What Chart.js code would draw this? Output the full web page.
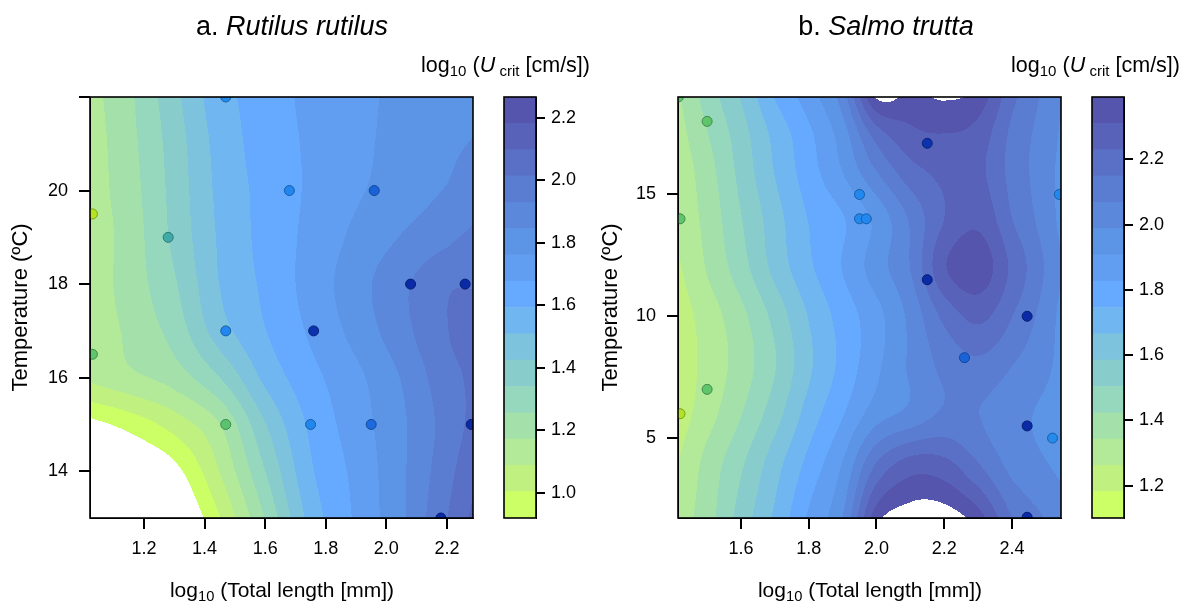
<!DOCTYPE html>
<html>
<head>
<meta charset="utf-8">
<script src="https://cdn.jsdelivr.net/npm/chart.js@4.4.1/dist/chart.umd.min.js"></script>
<style>
  body { margin: 0; background: #fff; font-family: "Liberation Sans", Arial, sans-serif; }
  #wrap { position: relative; width: 1185px; height: 603px; overflow: hidden; }
  canvas { position: absolute; top: 0; }
  .txt { position: absolute; white-space: nowrap; line-height: 1; color: #000; }
  .title { font-size: 27px; top: 13px; text-align: center; }
  .cbl { font-size: 21.5px; top: 55px; text-align: right; }
  .xt { font-size: 21px; top: 579px; text-align: center; }
  sub { font-size: 0.7em; vertical-align: -0.25em; line-height: 0; }
</style>
</head>
<body>
<div id="wrap">
  <canvas id="chartA" width="480" height="603" style="left:0"></canvas>
  <canvas id="barA" width="120" height="603" style="left:480px"></canvas>
  <canvas id="chartB" width="480" height="603" style="left:590px"></canvas>
  <canvas id="barB" width="115" height="603" style="left:1070px"></canvas>

  <div class="txt title" style="left:0;width:584px">a. <i>Rutilus rutilus</i></div>
  <div class="txt title" style="left:586px;width:600px">b. <i>Salmo trutta</i></div>
  <div class="txt cbl" style="left:0;width:590px">log<sub>10</sub> (<i>U</i>&#8201;<sub>crit</sub> [cm/s])</div>
  <div class="txt cbl" style="left:580px;width:600px">log<sub>10</sub> (<i>U</i>&#8201;<sub>crit</sub> [cm/s])</div>
  <div class="txt xt" style="left:0;width:564px">log<sub>10</sub> (Total length [mm])</div>
  <div class="txt xt" style="left:570px;width:600px">log<sub>10</sub> (Total length [mm])</div>
</div>
<script>
// colour bands of the filled contours (low -> high), same for both panels
const bandColors = ['#CCFF66', '#C0F080', '#B3EA99', '#A3E0AA', '#95D8BE', '#88CCCC', '#7DC3DD', '#70B6F0',
                    '#66AAFF', '#619DF0', '#5C94E6', '#5C88DC', '#5A7DD2', '#5970C6', '#5862B8', '#5655AD'];
// colours of the observation points, by position in the colour-bar range
const pointStops = [0.04, 0.21, 0.36, 0.59, 0.69, 0.95];
const pointColors = ['#B8E61E', '#5DC56B', '#3FA9A8', '#2288F0', '#1A62D8', '#0A2AA6'];

// ---- a. Rutilus rutilus ----
const rangeA = [0.92, 2.266];
const xRangeA = [1.022, 2.286];
const yRangeA = [13, 22];
const xTicksA = [1.2, 1.4, 1.6, 1.8, 2.0, 2.2];
const yTicksA = [14, 16, 18, 20, 22];
const yLabelsA = ['14', '16', '18', '20', ''];
const barTicksA = [1.0, 1.2, 1.4, 1.6, 1.8, 2.0, 2.2];
const gridXA = [1.02, 1.15, 1.3, 1.45, 1.6, 1.75, 1.9, 2.05, 2.2, 2.29];
const gridYA = [22, 21, 20, 19, 18, 17, 16, 15, 14, 13];
const gridZA = [
  [1.14, 1.24, 1.40, 1.56, 1.63, 1.70, 1.74, 1.78, 1.81, 1.83],
  [1.13, 1.23, 1.38, 1.54, 1.63, 1.69, 1.74, 1.79, 1.83, 1.85],
  [1.13, 1.22, 1.37, 1.53, 1.62, 1.69, 1.75, 1.80, 1.85, 1.88],
  [1.12, 1.21, 1.36, 1.52, 1.62, 1.70, 1.78, 1.85, 1.91, 1.95],
  [1.12, 1.21, 1.33, 1.51, 1.61, 1.71, 1.81, 1.91, 2.00, 2.01],
  [1.11, 1.19, 1.29, 1.47, 1.59, 1.69, 1.79, 1.90, 2.01, 2.04],
  [1.10, 1.15, 1.21, 1.34, 1.53, 1.65, 1.74, 1.85, 1.98, 2.03],
  [0.89, 0.95, 1.04, 1.17, 1.42, 1.61, 1.72, 1.83, 1.96, 2.04],
  [0.71, 0.79, 0.89, 1.09, 1.34, 1.58, 1.70, 1.83, 1.98, 2.08],
  [0.50, 0.63, 0.79, 1.00, 1.26, 1.54, 1.69, 1.83, 2.01, 2.12]
];
const ptXA = [1.47, 1.68, 1.96, 1.03, 1.28, 2.08, 2.26, 1.47, 1.76, 1.03, 1.47, 1.75, 1.95, 2.28, 2.18];
const ptYA = [22, 20, 20, 19.5, 19, 18, 18, 17, 17, 16.5, 15, 15, 15, 15, 13];
const ptZA = [1.70, 1.72, 1.85, 0.98, 1.40, 2.20, 2.20, 1.72, 2.15, 1.20, 1.22, 1.72, 1.82, 2.20, 2.20];

// ---- b. Salmo trutta ----
const rangeB = [1.101, 2.391];
const xRangeB = [1.414, 2.545];
const yRangeB = [1.72, 19];
const xTicksB = [1.6, 1.8, 2.0, 2.2, 2.4];
const yTicksB = [5, 10, 15];
const yLabelsB = ['5', '10', '15'];
const barTicksB = [1.2, 1.4, 1.6, 1.8, 2.0, 2.2];
const gridXB = [1.414, 1.5, 1.6, 1.7, 1.8, 1.9, 2.0, 2.1, 2.2, 2.3, 2.4, 2.545];
const gridYB = [19, 17.5, 16, 14, 12, 10, 8, 6, 4, 1.72];
const gridZB = [
  [1.33, 1.46, 1.59, 1.75, 1.87, 2.03, 2.40, 2.37, 2.40, 2.36, 2.17, 1.99],
  [1.31, 1.42, 1.55, 1.69, 1.81, 1.95, 2.19, 2.29, 2.31, 2.28, 2.13, 1.98],
  [1.29, 1.39, 1.53, 1.67, 1.79, 1.91, 2.07, 2.20, 2.25, 2.25, 2.12, 1.97],
  [1.28, 1.37, 1.50, 1.63, 1.75, 1.82, 1.93, 2.08, 2.23, 2.29, 2.15, 1.97],
  [1.25, 1.35, 1.47, 1.61, 1.73, 1.83, 1.95, 2.07, 2.30, 2.36, 2.21, 1.99],
  [1.22, 1.30, 1.40, 1.53, 1.67, 1.78, 1.88, 2.01, 2.17, 2.25, 2.15, 1.97],
  [1.21, 1.29, 1.38, 1.50, 1.65, 1.77, 1.89, 2.00, 2.09, 2.13, 2.07, 1.97],
  [1.22, 1.31, 1.42, 1.55, 1.70, 1.82, 1.95, 2.01, 2.08, 2.07, 2.01, 1.96],
  [1.26, 1.37, 1.49, 1.63, 1.77, 1.91, 2.15, 2.26, 2.25, 2.15, 2.04, 1.97],
  [1.30, 1.39, 1.54, 1.68, 1.84, 1.99, 2.36, 2.44, 2.44, 2.35, 2.15, 2.03]
];
const ptXB = [1.415, 1.50, 1.42, 1.95, 1.95, 1.97, 2.15, 2.15, 2.54, 2.445, 2.26, 2.445, 2.52, 2.445, 1.50, 1.42];
const ptYB = [19, 18, 14, 15, 14, 14, 17.1, 11.5, 15, 10, 8.3, 5.5, 5, 1.75, 7, 6];
const ptZB = [1.37, 1.37, 1.37, 1.86, 1.86, 1.86, 2.28, 2.33, 1.86, 2.33, 1.99, 2.33, 1.84, 2.33, 1.37, 1.17];

Chart.defaults.font.family = '"Liberation Sans", Arial, sans-serif';
Chart.defaults.color = '#000';

function hexToRgb(h) {
  const n = parseInt(h.slice(1), 16);
  return [(n >> 16) & 255, (n >> 8) & 255, n & 255];
}

function pointRgb(z, range) {
  const t = (z - range[0]) / (range[1] - range[0]);
  let i = 0;
  while (i < pointStops.length - 2 && t > pointStops[i + 1]) i++;
  const f = Math.max(0, Math.min(1, (t - pointStops[i]) / (pointStops[i + 1] - pointStops[i])));
  const a = hexToRgb(pointColors[i]), b = hexToRgb(pointColors[i + 1]);
  return a.map((v, k) => Math.round(v + (b[k] - v) * f));
}

// smooth (Catmull-Rom) surface through the read grid values; rows run from the top down
function cubic(p0, p1, p2, p3, t) {
  return p1 + 0.5 * t * (p2 - p0 + t * (2 * p0 - 5 * p1 + 4 * p2 - p3 + t * (3 * (p1 - p2) + p3 - p0)));
}
function gridAt(gz, j, i) {
  const nj = gz.length, ni = gz[0].length;
  const jj = Math.max(0, Math.min(nj - 1, j)), ii = Math.max(0, Math.min(ni - 1, i));
  let v = gz[jj][ii];
  // linear extrapolation one step beyond the edges
  if (j < 0) v = 2 * gz[0][ii] - gz[1][ii];
  if (j > nj - 1) v = 2 * gz[nj - 1][ii] - gz[nj - 2][ii];
  if (i < 0) v = 2 * gz[jj][0] - gz[jj][1] + (v - gz[jj][ii]);
  if (i > ni - 1) v = 2 * gz[jj][ni - 1] - gz[jj][ni - 2] + (v - gz[jj][ii]);
  return v;
}
function surface(gx, gy, gz, x, y) {
  let i = 0;
  while (i < gx.length - 2 && x > gx[i + 1]) i++;
  let j = 0;
  while (j < gy.length - 2 && y < gy[j + 1]) j++;
  const tx = (x - gx[i]) / (gx[i + 1] - gx[i]);
  const ty = (y - gy[j]) / (gy[j + 1] - gy[j]);
  const col = [];
  for (let r = -1; r <= 2; r++) {
    col.push(cubic(gridAt(gz, j + r, i - 1), gridAt(gz, j + r, i), gridAt(gz, j + r, i + 1), gridAt(gz, j + r, i + 2), tx));
  }
  return cubic(col[0], col[1], col[2], col[3], ty);
}

function contourPlugin(gx, gy, gz, range) {
  const rgb = bandColors.map(hexToRgb);
  const step = (range[1] - range[0]) / bandColors.length;
  return {
    id: 'contour',
    beforeDraw(chart) {
      const { ctx, chartArea: a, scales: { x, y } } = chart;
      const left = Math.round(a.left), top = Math.round(a.top);
      const w = Math.round(a.right) - left, h = Math.round(a.bottom) - top;
      const img = ctx.createImageData(w, h);
      for (let j = 0; j < h; j++) {
        const yv = y.getValueForPixel(top + j + 0.5);
        for (let i = 0; i < w; i++) {
          const xv = x.getValueForPixel(left + i + 0.5);
          const k = Math.floor((surface(gx, gy, gz, xv, yv) - range[0]) / step);
          if (k < 0 || k >= rgb.length) continue;
          const p = (j * w + i) * 4;
          img.data[p] = rgb[k][0];
          img.data[p + 1] = rgb[k][1];
          img.data[p + 2] = rgb[k][2];
          img.data[p + 3] = 255;
        }
      }
      ctx.putImageData(img, left, top);
    }
  };
}

// box round the plot area plus outward tick marks at every scale tick
const framePlugin = {
  id: 'frame',
  afterDraw(chart) {
    const { ctx, chartArea: a } = chart;
    const L = Math.round(a.left), R = Math.round(a.right), T = Math.round(a.top), B = Math.round(a.bottom);
    ctx.save();
    ctx.strokeStyle = '#000';
    ctx.lineWidth = 1.6;
    ctx.strokeRect(L, T, R - L, B - T);
    ctx.fillStyle = '#000';
    for (const s of Object.values(chart.scales)) {
      if (s.options.display === false) continue;
      const len = s.options.grid.tickLength;
      for (const t of s.ticks) {
        const p = Math.round(s.getPixelForValue(t.value));
        if (s.position === 'bottom') ctx.fillRect(p - 1, B, 2, len);
        else if (s.position === 'left') ctx.fillRect(L - len, p - 1, len, 2);
        else if (s.position === 'right') ctx.fillRect(R, p - 1, len, 2);
      }
    }
    ctx.restore();
  }
};

const tickFont = { size: 18 };

function makePanel(id, p) {
  const fill = p.ptZ.map(z => 'rgb(' + pointRgb(z, p.range).join(',') + ')');
  const edge = p.ptZ.map(z => 'rgb(' + pointRgb(z, p.range).map(v => Math.round(v * 0.7)).join(',') + ')');
  new Chart(document.getElementById(id), {
    type: 'scatter',
    data: {
      datasets: [{
        data: p.ptX.map((x, i) => ({ x: x, y: p.ptY[i] })),
        pointBackgroundColor: fill,
        pointBorderColor: edge,
        pointBorderWidth: 1,
        pointRadius: 5,
        clip: 0
      }]
    },
    options: {
      responsive: false,
      animation: false,
      layout: { padding: { top: 97, right: p.padRight, bottom: 0, left: 0 } },
      plugins: { legend: { display: false }, tooltip: { enabled: false } },
      scales: {
        x: {
          type: 'linear', min: p.xRange[0], max: p.xRange[1],
          afterBuildTicks: s => { s.ticks = p.xTicks.map(v => ({ value: v })); },
          afterFit: s => { s.height = 85; },
          ticks: { callback: v => v.toFixed(1), font: tickFont, color: '#000', padding: 9, maxRotation: 0, autoSkip: false },
          grid: { drawOnChartArea: false, drawTicks: true, tickLength: 11, color: '#000' },
          border: { display: true, color: '#000', width: 1 }
        },
        y: {
          type: 'linear', min: p.yRange[0], max: p.yRange[1],
          afterBuildTicks: s => { s.ticks = p.yTicks.map(v => ({ value: v })); },
          afterFit: s => { s.width = p.yWidth; },
          ticks: { callback: (v, i) => p.yLabels[i], font: tickFont, color: '#000', padding: 11, autoSkip: false },
          grid: { drawOnChartArea: false, drawTicks: true, tickLength: 11, color: '#000' },
          border: { display: true, color: '#000', width: 1 },
          title: { display: true, text: 'Temperature (ºC)', font: { size: 22 }, color: '#000', padding: { top: 8, bottom: 0 } }
        }
      }
    },
    plugins: [contourPlugin(p.gx, p.gy, p.gz, p.range), framePlugin]
  });
}

function makeBar(id, range, ticks, padLeft, axisWidth) {
  const step = (range[1] - range[0]) / bandColors.length;
  new Chart(document.getElementById(id), {
    type: 'bar',
    data: {
      labels: [''],
      datasets: bandColors.map((c, k) => ({
        data: [[range[0] + k * step, range[0] + (k + 1) * step]],
        backgroundColor: c,
        borderWidth: 0,
        barPercentage: 1,
        categoryPercentage: 1,
        grouped: false
      }))
    },
    options: {
      responsive: false,
      animation: false,
      layout: { padding: { top: 97, right: 0, bottom: 85, left: padLeft } },
      plugins: { legend: { display: false }, tooltip: { enabled: false } },
      scales: {
        x: { display: false },
        y: {
          position: 'right', min: range[0], max: range[1],
          afterBuildTicks: s => { s.ticks = ticks.map(v => ({ value: v })); },
          afterFit: s => { s.width = axisWidth; },
          ticks: { callback: v => v.toFixed(1), font: tickFont, color: '#000', padding: 6, autoSkip: false },
          grid: { drawOnChartArea: false, drawTicks: true, tickLength: 9, color: '#000' },
          border: { display: true, color: '#000', width: 1 }
        }
      }
    },
    plugins: [framePlugin]
  });
}

makePanel('chartA', {
  gx: gridXA, gy: gridYA, gz: gridZA, range: rangeA,
  ptX: ptXA, ptY: ptYA, ptZ: ptZA,
  xRange: xRangeA, yRange: yRangeA, xTicks: xTicksA, yTicks: yTicksA, yLabels: yLabelsA,
  yWidth: 90, padRight: 7
});
makeBar('barA', rangeA, barTicksA, 24, 64);

makePanel('chartB', {
  gx: gridXB, gy: gridYB, gz: gridZB, range: rangeB,
  ptX: ptXB, ptY: ptYB, ptZ: ptZB,
  xRange: xRangeB, yRange: yRangeB, xTicks: xTicksB, yTicks: yTicksB, yLabels: yLabelsB,
  yWidth: 88, padRight: 9
});
makeBar('barB', rangeB, barTicksB, 22, 61);
</script>
</body>
</html>
